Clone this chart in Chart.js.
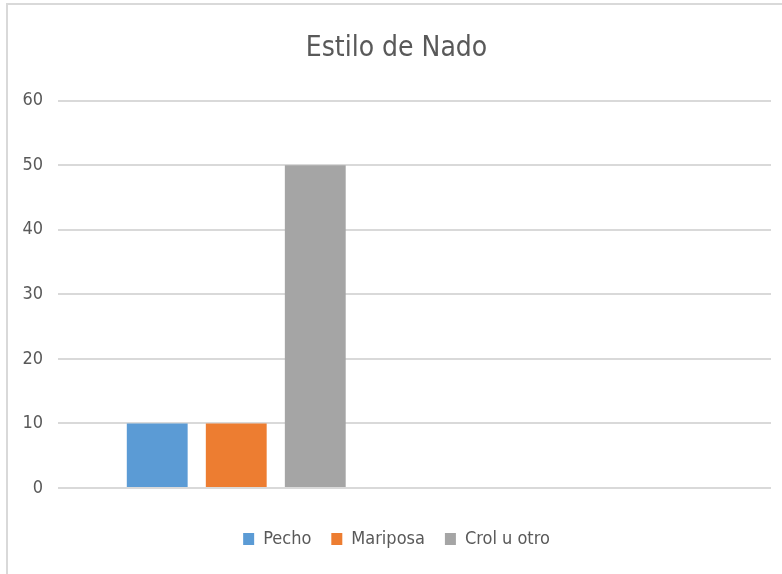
<!DOCTYPE html>
<html>
<head>
<meta charset="utf-8">
<script src="https://cdn.jsdelivr.net/npm/chart.js@4.4.1/dist/chart.umd.min.js"></script>
<style>
  html, body { margin: 0; padding: 0; background: #fff; }
  #wrap { position: relative; width: 782px; height: 574px; overflow: hidden; }
  #frame { position: absolute; left: 6px; top: 3px; width: 800px; height: 600px; border-left: 2px solid #d9d9d9; border-top: 2px solid #d9d9d9; box-sizing: border-box; pointer-events: none; }
  canvas { position: absolute; left: 0; top: 0; }
</style>
</head>
<body>
<div id="wrap">
  <canvas id="c" width="800" height="574"></canvas>
  <div id="frame"></div>
</div>
<script>
const titleText = "Estilo de Nado";
const categories = ["", ""];
const seriesNames = ["Pecho", "Mariposa", "Crol u otro"];
const pecho = [10, null];
const mariposa = [10, null];
const crol = [50, null];
const yTicks = [0, 10, 20, 30, 40, 50, 60];

const FONT = "'Liberation Sans Narrow', 'DejaVu Sans Condensed', 'Arial Narrow', sans-serif";
const colors = ["#5B9BD5", "#ED7D31", "#A5A5A5"];

new Chart(document.getElementById("c"), {
  type: "bar",
  data: {
    labels: categories,
    datasets: [
      { label: seriesNames[0], data: pecho, backgroundColor: colors[0] },
      { label: seriesNames[1], data: mariposa, backgroundColor: colors[1] },
      { label: seriesNames[2], data: crol, backgroundColor: colors[2] }
    ]
  },
  options: {
    responsive: false,
    animation: false,
    devicePixelRatio: 1,
    categoryPercentage: 0.665,
    barPercentage: 0.77,
    layout: { padding: { top: 10, right: 29, bottom: 16, left: 22 } },
    plugins: {
      title: {
        display: true,
        text: titleText,
        color: "#595959",
        font: { family: FONT, size: 28, weight: "normal" },
        padding: { top: 22, bottom: 35 }
      },
      legend: {
        position: "bottom",
        labels: {
          color: "#595959",
          font: { family: FONT, size: 18 },
          boxWidth: 11,
          boxHeight: 12,
          padding: 20
        }
      },
      tooltip: { enabled: false }
    },
    scales: {
      x: {
        grid: { display: false, drawTicks: false },
        border: { display: false },
        ticks: { display: false },
        afterFit: (s) => { s.height = 22; }
      },
      y: {
        min: 0,
        max: 60,
        afterBuildTicks: (axis) => { axis.ticks = yTicks.map(v => ({ value: v })); },
        afterFit: (s) => { s.width = 36; },
        grid: { color: "#D9D9D9", lineWidth: 2, drawTicks: false },
        border: { display: false },
        ticks: {
          color: "#595959",
          font: { family: FONT, size: 18 },
          padding: 15
        }
      }
    }
  }
});
</script>
</body>
</html>
